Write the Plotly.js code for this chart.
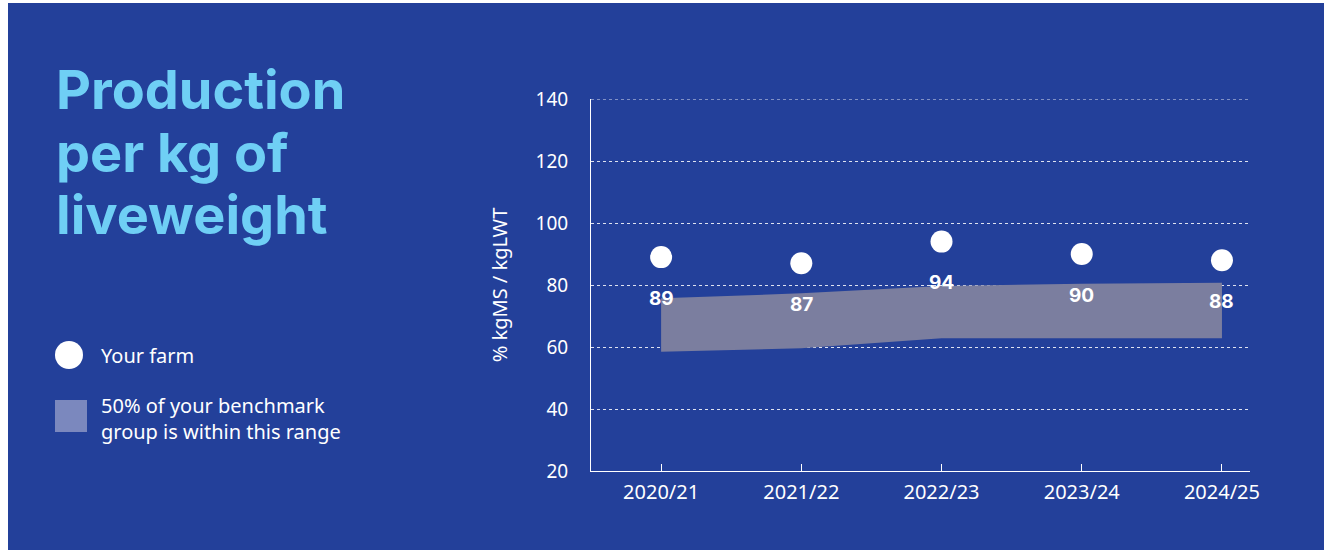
<!DOCTYPE html>
<html>
<head>
<meta charset="utf-8">
<script src="https://cdn.plot.ly/plotly-3.0.1.min.js"></script>
<style>
html,body{margin:0;padding:0;background:#ffffff;}
#chart{position:absolute;left:8px;top:3px;width:1316px;height:547px;}
</style>
</head>
<body>
<div id="chart"></div>
<script>
// ---- data ----
const seasons = ["2020/21", "2021/22", "2022/23", "2023/24", "2024/25"];
const yourFarm = [89, 87, 94, 90, 88];
const benchLower = [58.5, 59.6, 62.8, 62.8, 62.8];
const benchUpper = [75.7, 77.3, 79.7, 80.4, 80.7];
const yTicks = [20, 40, 60, 80, 100, 120, 140];
const titleLines = ["Production", "per kg of", "liveweight"];
const legendFarm = "Your farm";
const legendBench = "50% of your benchmark<br>group is within this range";
const yTitle = "% kgMS / kgLWT";

const BG = "#23409a";
const BAND = "#7b7e9f";
const GRID = "rgba(255,255,255,0.85)";

// plot area in page pixels (for layout helpers only)
const PL = 591, PR = 1250, PT = 99, PB = 471;
const px = x => (x - PL) / (PR - PL);
const py = y => (PB - y) / (PB - PT);

const idx = seasons.map((s,i)=>i);
const traces = [
  {x: idx, y: benchLower, type: "scatter", mode: "lines",
   line: {width: 0, color: BAND}, hoverinfo: "skip", showlegend: false},
  {x: idx, y: benchUpper, type: "scatter", mode: "lines",
   line: {width: 0, color: BAND}, fill: "tonexty", fillcolor: BAND,
   hoverinfo: "skip", showlegend: false},
  {x: idx, y: yourFarm, type: "scatter", mode: "markers",
   marker: {size: 22, color: "#ffffff", line: {width: 0}}, showlegend: false}
];

const annotations = yourFarm.map((v,i)=>({
  x: i, y: v, xref: "x", yref: "y", text: "<b>" + v + "</b>", showarrow: false,
  yshift: -41, font: {family: "Inter, 'Open Sans', sans-serif", size: 19, color: "#ffffff"}
}));

const titleCenters = [89.5, 152, 214.5];
titleLines.forEach((t,i)=>annotations.push({
  xref: "paper", yref: "paper", x: px(54), y: py(titleCenters[i]), xanchor: "left", yanchor: "middle",
  align: "left", showarrow: false, text: "<b>" + t + "</b>",
  font: {family: "Inter, 'Open Sans', sans-serif", size: 54, color: "#6fcff5"}
}));
annotations.push({
  xref: "paper", yref: "paper", x: px(99), y: py(355), xanchor: "left", yanchor: "middle",
  align: "left", showarrow: false, text: legendFarm,
  font: {family: "'Noto Sans', sans-serif", size: 20, color: "#ffffff"}
});
annotations.push({
  xref: "paper", yref: "paper", x: px(99), y: py(418), xanchor: "left", yanchor: "middle",
  align: "left", showarrow: false, text: legendBench,
  font: {family: "'Noto Sans', sans-serif", size: 20, color: "#ffffff"}
});

const shapes = [
  {type: "circle", xref: "paper", yref: "paper", x0: px(55), x1: px(83), y0: py(369), y1: py(341),
   fillcolor: "#ffffff", line: {width: 0}},
  {type: "rect", xref: "paper", yref: "paper", x0: px(55), x1: px(87), y0: py(432), y1: py(400),
   fillcolor: "#7b88be", line: {width: 0}},
  // top gridline (Plotly omits the gridline on the range edge)
  {type: "line", xref: "paper", yref: "y", x0: 0, x1: 1,
   y0: yTicks[yTicks.length-1], y1: yTicks[yTicks.length-1],
   line: {color: GRID, width: 1, dash: "dot"}}
];

const layout = {
  width: 1316, height: 547,
  margin: {l: PL - 8, r: 1316 - (PR - 8), t: PT - 3, b: 547 - (PB - 3)},
  paper_bgcolor: BG, plot_bgcolor: BG,
  font: {family: "'Noto Sans', sans-serif", color: "#ffffff", size: 20},
  showlegend: false,
  xaxis: {
    range: [-0.5, 4.2], tickmode: "array", tickvals: idx, ticktext: seasons,
    showgrid: false, zeroline: false, showline: true, linecolor: "#ffffff", linewidth: 1,
    ticks: "inside", ticklen: 7, tickcolor: "#ffffff", tickfont: {size: 20, color: "#ffffff"},
    ticklabelstandoff: 3, fixedrange: true
  },
  yaxis: {
    range: [20, 140], tickmode: "array", tickvals: yTicks,
    showgrid: true, gridcolor: GRID, griddash: "dot", gridwidth: 1,
    zeroline: false, showline: true, linecolor: "#ffffff", linewidth: 1,
    ticks: "", tickfont: {size: 19, color: "#ffffff"}, ticklabelstandoff: 18,
    title: {text: yTitle, font: {size: 20, color: "#ffffff"}, standoff: 22},
    fixedrange: true
  },
  annotations: annotations,
  shapes: shapes
};

Plotly.newPlot("chart", traces, layout, {displayModeBar: false, staticPlot: true});
</script>
</body>
</html>
